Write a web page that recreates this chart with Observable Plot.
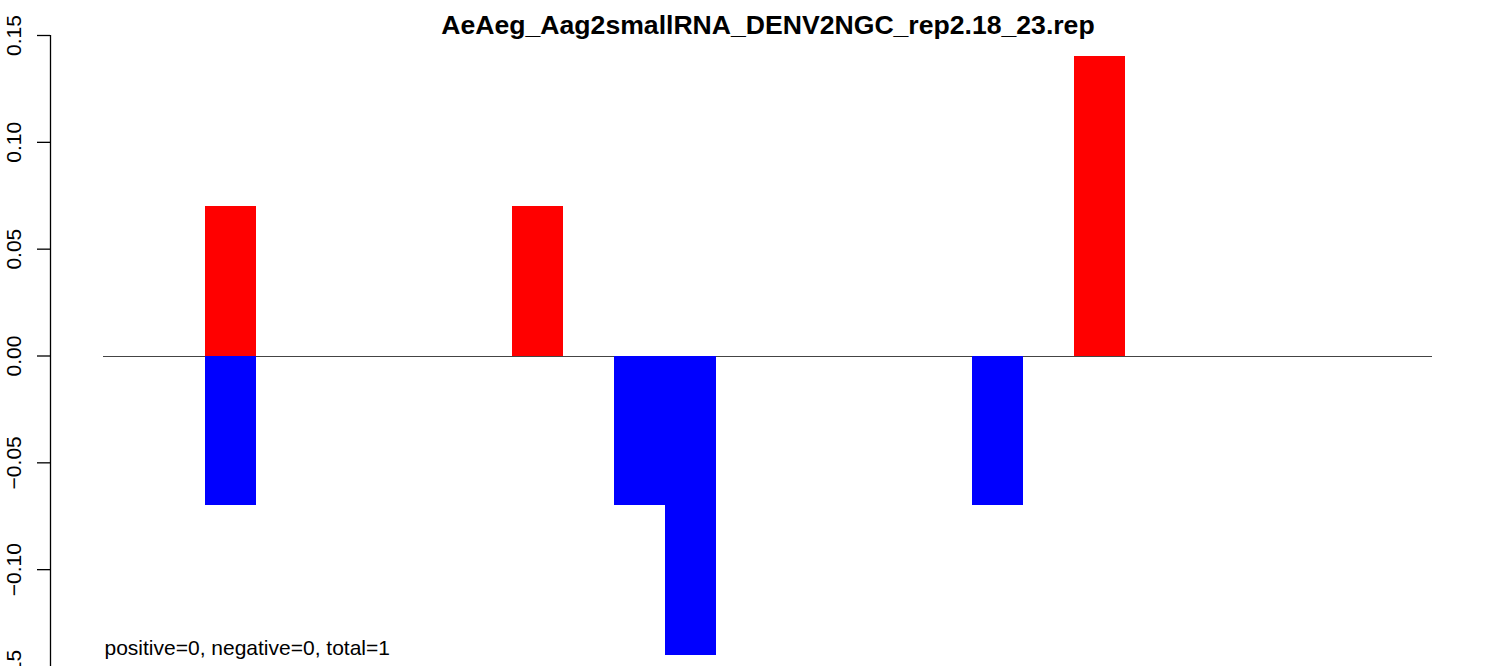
<!DOCTYPE html>
<html>
<head>
<meta charset="utf-8">
<script src="https://cdn.jsdelivr.net/npm/d3@7"></script>
<script src="https://cdn.jsdelivr.net/npm/@observablehq/plot@0.6"></script>
<style>
  html, body { margin: 0; padding: 0; background: #fff; overflow: hidden; }
  svg { overflow: visible; }
</style>
</head>
<body>
<div id="chart"></div>
<script>
const title = "AeAeg_Aag2smallRNA_DENV2NGC_rep2.18_23.rep";
const caption = "positive=0, negative=0, total=1";
const bins = [0, 1, 2, 3, 4, 5, 6, 7, 8, 9, 10, 11, 12, 13, 14, 15, 16, 17, 18, 19, 20, 21, 22, 23, 24, 25];
const positive = [0, 0, 0.07, 0, 0, 0, 0, 0, 0.07, 0, 0, 0, 0, 0, 0, 0, 0, 0, 0, 0.14, 0, 0, 0, 0, 0, 0];
const negative = [0, 0, -0.07, 0, 0, 0, 0, 0, 0, 0, -0.07, -0.14, 0, 0, 0, 0, 0, -0.07, 0, 0, 0, 0, 0, 0, 0, 0];
const yTicks = [-0.15, -0.10, -0.05, 0, 0.05, 0.10, 0.15];

const posData = bins.map((b, i) => ({bin: b, value: positive[i]})).filter(d => d.value !== 0);
const negData = bins.map((b, i) => ({bin: b, value: negative[i]})).filter(d => d.value !== 0);
const n = bins.length;
const pad = n * 0.04;

const chart = Plot.plot({
  width: 1509,
  height: 666,
  marginLeft: 50,
  marginRight: 24,
  marginTop: 35,
  marginBottom: -10,
  style: {fontFamily: '"Liberation Sans", Arial, Helvetica, sans-serif', background: "#fff", overflow: "visible", color: "#000"},
  x: {domain: [-pad, n + pad], axis: null},
  y: {domain: [yTicks[0], yTicks[yTicks.length - 1]], axis: null},
  marks: [
    Plot.ruleY([0], {x1: bins[0], x2: bins[n - 1] + 1, stroke: "#444", strokeWidth: 1, shapeRendering: "crispEdges"}),
    Plot.rectY(posData, {x1: "bin", x2: d => d.bin + 1, y1: 0, y2: "value", fill: "#ff0000", shapeRendering: "crispEdges"}),
    Plot.rectY(negData, {x1: "bin", x2: d => d.bin + 1, y1: 0, y2: "value", fill: "#0000ff", shapeRendering: "crispEdges"}),
    Plot.ruleX([-pad], {y1: yTicks[0], y2: yTicks[yTicks.length - 1], stroke: "#000", strokeWidth: 1.3}),
    Plot.axisY(yTicks, {anchor: "left", tickSize: 13, tickRotate: -90, tickPadding: 17, fontSize: 21, tickFormat: d3.format(".2f"), strokeWidth: 1.3, label: null}),
    Plot.text([title], {frameAnchor: "top", dy: -10.5, fontSize: 26.6, fontWeight: "bold", lineAnchor: "middle", fill: "#000"}),
    Plot.text([caption], {frameAnchor: "bottom-left", dx: 54, dy: -28.5, textAnchor: "start", fontSize: 21, lineAnchor: "middle", fill: "#000"})
  ]
});
document.getElementById("chart").appendChild(chart);
</script>
</body>
</html>
